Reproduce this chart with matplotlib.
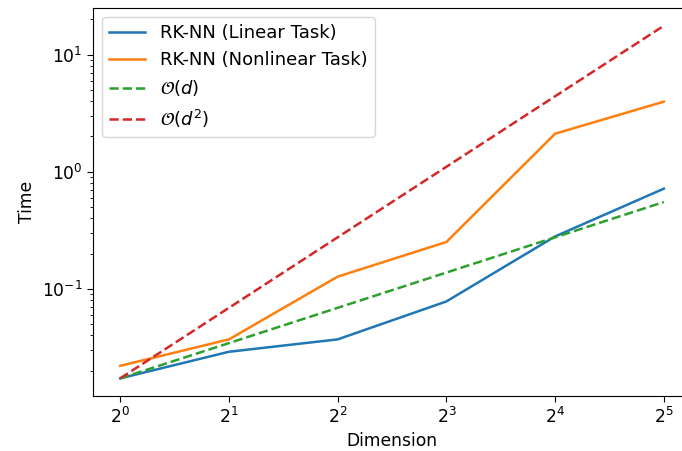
import numpy as np
import matplotlib
matplotlib.use('Agg')
import matplotlib.pyplot as plt

dims = [1, 2, 4, 8, 16, 32]
time_linear = [0.0172, 0.029, 0.037, 0.078, 0.28, 0.716]
time_nonlinear = [0.022, 0.037, 0.127, 0.251, 2.11, 3.96]
base = 0.0172

plt.rcParams['font.size'] = 12.3

d = np.array(dims)
fig, ax = plt.subplots(figsize=(6.82, 4.51), dpi=100)
fig.subplots_adjust(left=0.1364, right=1.0132, bottom=0.122, top=0.982)

ax.plot(dims, time_linear, lw=1.8, label='RK-NN (Linear Task)')
ax.plot(dims, time_nonlinear, lw=1.8, label='RK-NN (Nonlinear Task)')
ax.plot(dims, base * d, '--', lw=1.8, label=r'$\mathcal{O}(d)$')
ax.plot(dims, base * d**2, '--', lw=1.8, label=r'$\mathcal{O}(d^2)$')

ax.set_xscale('log', base=2)
ax.set_yscale('log')
ax.set_xlabel('Dimension')
ax.set_ylabel('Time')
ax.tick_params(which='major', length=4.2)
ax.tick_params(which='minor', length=2.4)
ax.legend(loc='upper left', fontsize=13)

fig.savefig('out.png', dpi=100)
